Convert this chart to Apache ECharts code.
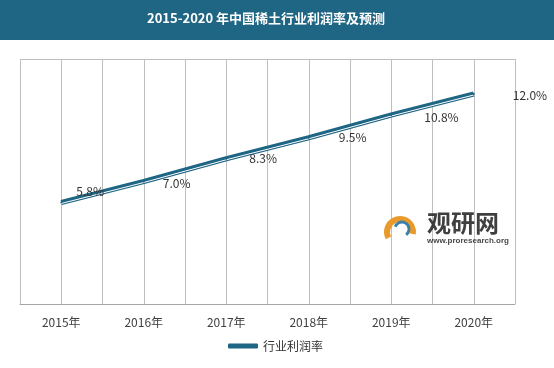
<!DOCTYPE html>
<html><head><meta charset="utf-8">
<script src="https://cdn.jsdelivr.net/npm/echarts@6/dist/echarts.min.js"></script>
<style>html,body{margin:0;padding:0;background:#fff}#c{width:554px;height:368px}</style>
</head><body><div id="c"></div>
<script>
const categories = ['2015年','2016年','2017年','2018年','2019年','2020年'];
const profitRate = [5.8, 7.0, 8.3, 9.5, 10.8, 12.0];
const seriesName = '行业利润率';
const titleText = '2015-2020 年中国稀土行业利润率及预测';

const labelOffsets = [[12,-11],[16,2],[20,0],[27,0],[30,2],[36,1]];
const FONT = '"Noto Sans CJK SC","Noto Sans",sans-serif';
const chart = echarts.init(document.getElementById('c'));
const halfCats = [];
for (let i = 0; i < categories.length * 2; i++) halfCats.push(String(i));
const axisCommon = {axisLine:{show:false}, axisTick:{show:false}, axisLabel:{show:false}};
chart.setOption({
  backgroundColor: '#fff',
  animation: false,
  graphic: [
    {type:'rect', shape:{x:0,y:0,width:554,height:40}, style:{fill:'#1f6584'}, z:0},
    {type:'text', left:147, top:12, style:{text:titleText, fill:'#fff', font:'bold 13px ' + FONT}, z:1},
    {type:'text', left:427, top:211, style:{text:'观研网', fill:'#2a2a2a', font:'bold 24px ' + FONT, opacity:0.9}, z:1},
    {type:'text', left:427, top:237, style:{text:'www.proresearch.org', fill:'#333', font:'bold 8px sans-serif', opacity:0.9}, z:1},
    {type:'arc', shape:{cx:400, cy:232, r:13, startAngle:Math.PI*0.85, endAngle:Math.PI*2.05}, style:{stroke:'#e89a2a', lineWidth:6, fill:null}, z:1},
    {type:'arc', shape:{cx:402, cy:229, r:7, startAngle:Math.PI*1.1, endAngle:Math.PI*2.3}, style:{stroke:'#3d7fa6', lineWidth:3, fill:null}, z:1}
  ],
  grid: [
    {left:20, right:39, top:59, bottom:64, containLabel:false},
    {left:20, right:39, top:60, bottom:63, containLabel:false}
  ],
  legend: {
    data:[seriesName], bottom:11, left:223,
    icon:'roundRect', itemWidth:30, itemHeight:5, itemGap:1,
    textStyle:{fontFamily:FONT, fontSize:12, color:'#333'}
  },
  xAxis: [
    {type:'category', gridIndex:0, data:categories, boundaryGap:true,
     axisLine:{lineStyle:{color:'#a6a6a6'}}, axisTick:{show:false},
     axisLabel:{color:'#404040', fontFamily:FONT, fontSize:12, margin:12},
     splitLine:{show:true, lineStyle:{color:'#bfbfbf'}}},
    {type:'category', gridIndex:0, data:halfCats, boundaryGap:true, position:'bottom',
     axisLine:{show:false}, axisTick:{show:false}, axisLabel:{show:false},
     splitLine:{show:true, lineStyle:{color:'#bfbfbf'}}},
    Object.assign({type:'category', gridIndex:1, data:categories, boundaryGap:true, splitLine:{show:false}}, axisCommon)
  ],
  yAxis: [
    {type:'value', gridIndex:0, min:0, max:14, interval:14,
     axisLine:{show:false}, axisTick:{show:false}, axisLabel:{show:false},
     splitLine:{show:true, lineStyle:{color:'#bfbfbf'}}},
    Object.assign({type:'value', gridIndex:1, min:0, max:14, interval:14, splitLine:{show:false}}, axisCommon)
  ],
  series: [
    {name:seriesName, type:'line', xAxisIndex:0, yAxisIndex:0, symbol:'circle', symbolSize:2, showSymbol:true,
     itemStyle:{color:'#1f6584'},
     lineStyle:{width:5, color:'#1f6584'},
     data: profitRate.map((v,i)=>({value:v, label:{offset:labelOffsets[i]}})),
     label:{show:true, position:'right', distance:2, color:'#333', fontFamily:FONT, fontSize:12,
       formatter:p=>p.value.toFixed(1)+'%'}},
    {name:'_inner', type:'line', xAxisIndex:2, yAxisIndex:1, symbol:'none', silent:true,
     lineStyle:{width:1, color:'#ffffff'}, data:profitRate, z:3}
  ]
});
</script></body></html>
